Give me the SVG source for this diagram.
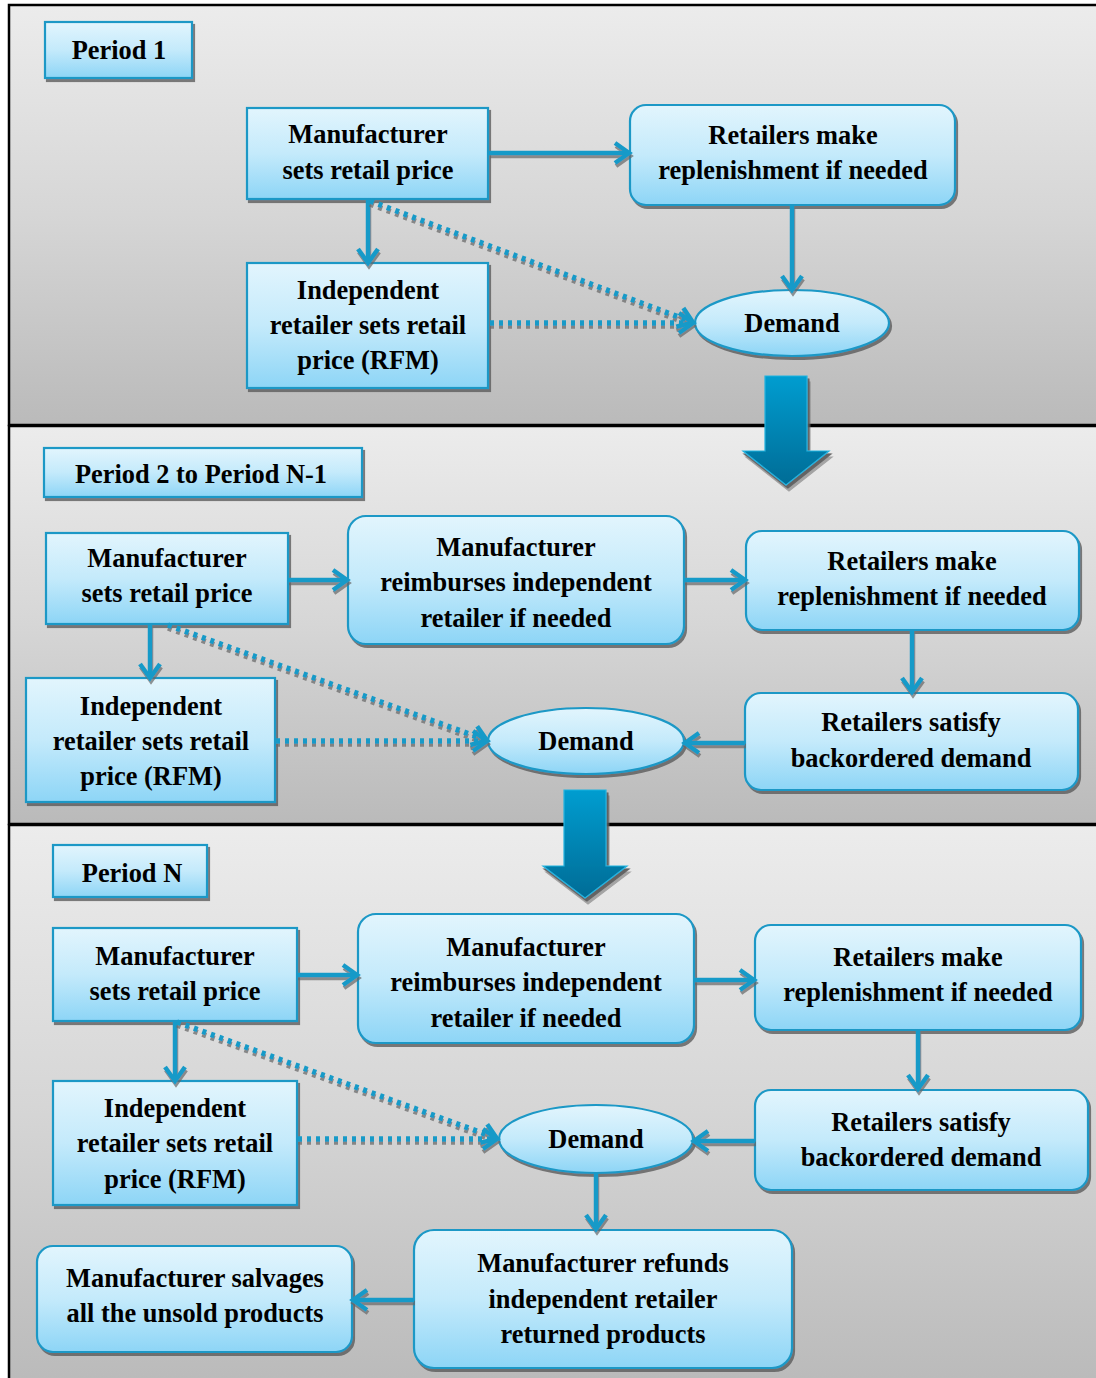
<svg xmlns="http://www.w3.org/2000/svg" width="1096" height="1378" viewBox="0 0 1096 1378">
<defs>
<linearGradient id="panelGrad" x1="0" y1="0" x2="0" y2="1">
<stop offset="0" stop-color="#ececec"/>
<stop offset="0.5" stop-color="#d6d6d6"/>
<stop offset="1" stop-color="#bababa"/>
</linearGradient>
<linearGradient id="nodeGrad" x1="0" y1="0" x2="0" y2="1">
<stop offset="0" stop-color="#e2f5fd"/>
<stop offset="0.5" stop-color="#c4eafb"/>
<stop offset="1" stop-color="#8dd5f6"/>
</linearGradient>
<linearGradient id="bigGrad" x1="0" y1="0" x2="0" y2="1">
<stop offset="0" stop-color="#009dd0"/>
<stop offset="1" stop-color="#006c96"/>
</linearGradient>
<filter id="shadow" x="-10%" y="-10%" width="130%" height="140%">
<feDropShadow dx="2" dy="3" stdDeviation="0.6" flood-color="#555" flood-opacity="0.75"/>
</filter>
<filter id="lshadow" x="-10%" y="-10%" width="130%" height="140%">
<feDropShadow dx="1" dy="3" stdDeviation="0.4" flood-color="#666" flood-opacity="0.7"/>
</filter>
<filter id="dshadow" x="-10%" y="-10%" width="130%" height="140%">
<feDropShadow dx="0" dy="3" stdDeviation="0.3" flood-color="#6a6a6a" flood-opacity="0.75"/>
</filter>
<marker id="ah" markerUnits="userSpaceOnUse" markerWidth="22" markerHeight="28" viewBox="-17 -14 22 28" refX="-1" refY="0" orient="auto">
<path d="M-14,-10 L0,0 L-14,10" fill="none" stroke="#189ac8" stroke-width="4.5"/>
</marker>
<style>
.panel{fill:url(#panelGrad);stroke:#000;stroke-width:2.5}
.box{fill:url(#nodeGrad);stroke:#1a98c6;stroke-width:2.2;filter:url(#shadow)}
.t{font-family:"Liberation Serif","Times New Roman",serif;font-weight:bold;font-size:26.4px;fill:#000;text-anchor:middle}
.c{fill:none;stroke:#189ac8;stroke-width:4.5;marker-end:url(#ah)}
.d{fill:none;stroke:#189ac8;stroke-width:5.5;stroke-dasharray:4 5;marker-end:url(#ah)}
.big{fill:url(#bigGrad);stroke:#22b4e0;stroke-width:1.2;filter:url(#shadow)}
</style>
</defs>

<g id="panels">
<rect class="panel" x="9" y="5" width="1095" height="420"/>
<rect class="panel" x="9" y="426" width="1095" height="398"/>
<rect class="panel" x="9" y="825" width="1095" height="560"/>
</g>

<!-- Panel 1 -->
<g id="p1-label"><rect class="box" x="45" y="22" width="147" height="56"/><text class="t" x="119" y="59">Period 1</text></g>
<g id="p1-msrp"><rect class="box" x="247" y="108" width="241" height="91"/><text class="t" x="368" y="143">Manufacturer</text><text class="t" x="368" y="179">sets retail price</text></g>
<g id="p1-replen"><rect class="box" x="630" y="105" width="325" height="100" rx="16"/><text class="t" x="793" y="144">Retailers make</text><text class="t" x="793" y="179">replenishment if needed</text></g>
<g id="p1-indep"><rect class="box" x="247" y="263" width="241" height="125"/><text class="t" x="368" y="299">Independent</text><text class="t" x="368" y="334">retailer sets retail</text><text class="t" x="368" y="369">price (RFM)</text></g>
<g id="p1-demand"><ellipse class="box" cx="792" cy="323" rx="97" ry="33"/><text class="t" x="792" y="332">Demand</text></g>

<!-- Panel 2 -->
<g id="p2-label"><rect class="box" x="44" y="448" width="318" height="49"/><text class="t" x="201" y="483">Period 2 to Period N-1</text></g>
<g id="p2-msrp"><rect class="box" x="46" y="533" width="242" height="91"/><text class="t" x="167" y="567">Manufacturer</text><text class="t" x="167" y="602">sets retail price</text></g>
<g id="p2-reimb"><rect class="box" x="348" y="516" width="336" height="128" rx="18"/><text class="t" x="516" y="556">Manufacturer</text><text class="t" x="516" y="591">reimburses independent</text><text class="t" x="516" y="627">retailer if needed</text></g>
<g id="p2-replen"><rect class="box" x="746" y="531" width="333" height="99" rx="16"/><text class="t" x="912" y="570">Retailers make</text><text class="t" x="912" y="605">replenishment if needed</text></g>
<g id="p2-indep"><rect class="box" x="26" y="678" width="249" height="124"/><text class="t" x="151" y="715">Independent</text><text class="t" x="151" y="750">retailer sets retail</text><text class="t" x="151" y="785">price (RFM)</text></g>
<g id="p2-demand"><ellipse class="box" cx="586" cy="741" rx="98" ry="33"/><text class="t" x="586" y="750">Demand</text></g>
<g id="p2-backorder"><rect class="box" x="745" y="693" width="333" height="97" rx="16"/><text class="t" x="911" y="731">Retailers satisfy</text><text class="t" x="911" y="767">backordered demand</text></g>

<!-- Panel 3 -->
<g id="p3-label"><rect class="box" x="53" y="845" width="154" height="52"/><text class="t" x="132" y="882">Period N</text></g>
<g id="p3-msrp"><rect class="box" x="53" y="928" width="244" height="93"/><text class="t" x="175" y="965">Manufacturer</text><text class="t" x="175" y="1000">sets retail price</text></g>
<g id="p3-reimb"><rect class="box" x="358" y="914" width="336" height="129" rx="18"/><text class="t" x="526" y="956">Manufacturer</text><text class="t" x="526" y="991">reimburses independent</text><text class="t" x="526" y="1027">retailer if needed</text></g>
<g id="p3-replen"><rect class="box" x="755" y="925" width="326" height="105" rx="16"/><text class="t" x="918" y="966">Retailers make</text><text class="t" x="918" y="1001">replenishment if needed</text></g>
<g id="p3-indep"><rect class="box" x="53" y="1081" width="244" height="124"/><text class="t" x="175" y="1117">Independent</text><text class="t" x="175" y="1152">retailer sets retail</text><text class="t" x="175" y="1188">price (RFM)</text></g>
<g id="p3-demand"><ellipse class="box" cx="596" cy="1139" rx="97" ry="34"/><text class="t" x="596" y="1148">Demand</text></g>
<g id="p3-backorder"><rect class="box" x="755" y="1090" width="333" height="100" rx="16"/><text class="t" x="921" y="1131">Retailers satisfy</text><text class="t" x="921" y="1166">backordered demand</text></g>
<g id="p3-refund"><rect class="box" x="414" y="1230" width="378" height="138" rx="20"/><text class="t" x="603" y="1272">Manufacturer refunds</text><text class="t" x="603" y="1308">independent retailer</text><text class="t" x="603" y="1343">returned products</text></g>
<g id="p3-salvage"><rect class="box" x="37" y="1246" width="315" height="106" rx="16"/><text class="t" x="195" y="1287">Manufacturer salvages</text><text class="t" x="195" y="1322">all the unsold products</text></g>

<g id="connectors">
<g filter="url(#lshadow)">
<path class="c" d="M489,153 L628,153"/>
<path class="c" d="M368,200 L368,262"/>
<path class="c" d="M792,205 L792,289"/>
<path class="c" d="M288,580 L346,580"/>
<path class="c" d="M684,580 L744,580"/>
<path class="c" d="M912,631 L912,691"/>
<path class="c" d="M745,743 L686,743"/>
<path class="c" d="M150,625 L150,677"/>
<path class="c" d="M297,975 L356,975"/>
<path class="c" d="M694,980 L753,980"/>
<path class="c" d="M918,1031 L918,1088"/>
<path class="c" d="M755,1141 L695,1141"/>
<path class="c" d="M175,1022 L175,1080"/>
<path class="c" d="M596,1173 L596,1228"/>
<path class="c" d="M414,1300 L354,1300"/>
<polygon class="big" points="765,376 807,376 807,451 829,451 786,485 743,451 765,451"/>
<polygon class="big" points="564,790 606,790 606,866 627,866 585,898 543,866 564,866"/>
</g>
<g filter="url(#dshadow)">
<path class="d" d="M370,201 L692,322"/>
<path class="d" d="M490,323 L692,323"/>
<path class="d" d="M168,625 L486,740"/>
<path class="d" d="M276,741 L486,741"/>
<path class="d" d="M177,1022 L496,1138"/>
<path class="d" d="M298,1139 L496,1139"/>
</g>
</g>
</svg>
